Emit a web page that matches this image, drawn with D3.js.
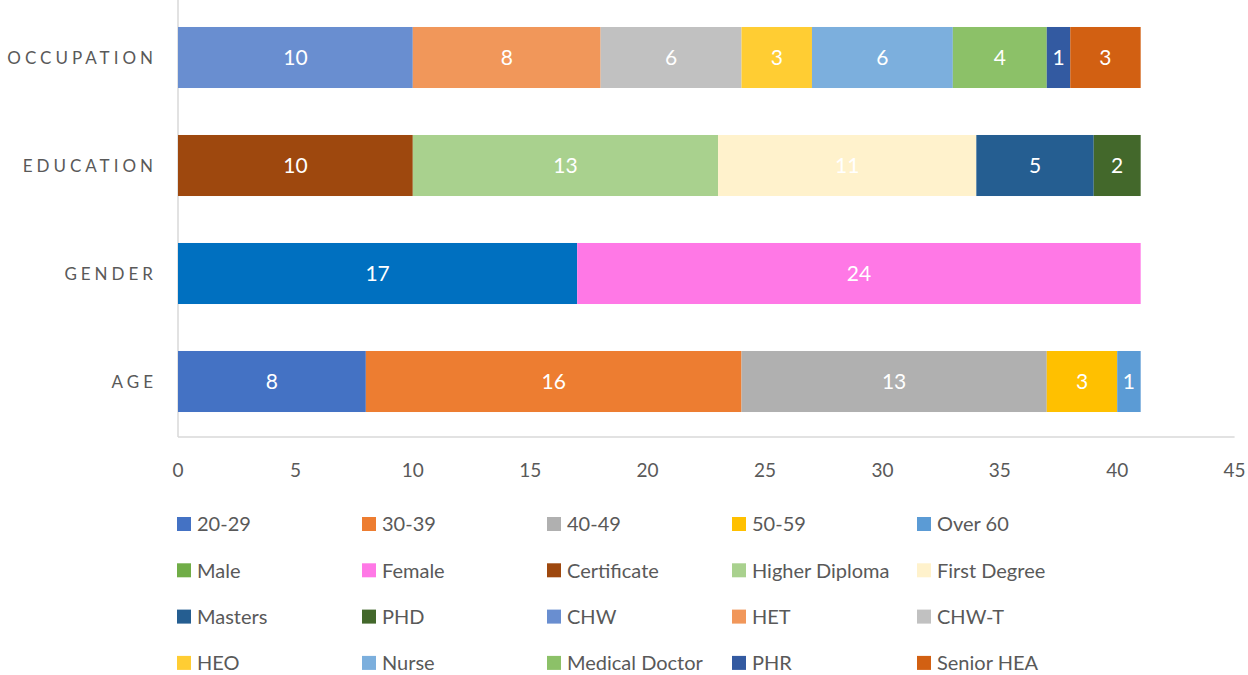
<!DOCTYPE html>
<html>
<head>
<meta charset="utf-8">
<script src="https://cdn.jsdelivr.net/npm/d3@7"></script>
<style>
  body { margin: 0; background: #fff; }
  svg { font-family: Lato, "Open Sans", sans-serif; }
</style>
</head>
<body>
<svg width="1248" height="675"></svg>
<script>
// categories top to bottom
const categories = ["OCCUPATION", "EDUCATION", "GENDER", "AGE"];

const ageLabels = ["20-29", "30-39", "40-49", "50-59", "Over 60"];
const ageValues = [8, 16, 13, 3, 1];
const ageColors = ["#4472C4", "#ED7D31", "#B0B0B0", "#FFC000", "#5B9BD5"];

const genderLabels = ["Male", "Female"];
const genderValues = [17, 24];
const genderColors = ["#0070C0", "#FF78E6"];
const genderLegendColors = ["#70AD47", "#FF78E6"]; // legend swatch for Male is green in the original

const eduLabels = ["Certificate", "Higher Diploma", "First Degree", "Masters", "PHD"];
const eduValues = [10, 13, 11, 5, 2];
const eduColors = ["#9E480E", "#A9D18E", "#FFF2CC", "#255E91", "#43682B"];

const occLabels = ["CHW", "HET", "CHW-T", "HEO", "Nurse", "Medical Doctor", "PHR", "Senior HEA"];
const occValues = [10, 8, 6, 3, 6, 4, 1, 3];
const occColors = ["#698ED0", "#F1975A", "#C1C1C1", "#FFCD33", "#7CAFDD", "#8CC168", "#335AA1", "#D26012"];

const xTicks = [0, 5, 10, 15, 20, 25, 30, 35, 40, 45];

function stack(cat, labels, values, colors) {
  let acc = 0;
  return labels.map((l, i) => {
    const s = { cat, label: l, value: values[i], x0: acc, x1: acc + values[i], color: colors[i] };
    acc += values[i];
    return s;
  });
}

const segments = [
  ...stack("AGE", ageLabels, ageValues, ageColors),
  ...stack("GENDER", genderLabels, genderValues, genderColors),
  ...stack("EDUCATION", eduLabels, eduValues, eduColors),
  ...stack("OCCUPATION", occLabels, occValues, occColors)
];

const legendItems = [
  ...ageLabels.map((l, i) => ({ label: l, color: ageColors[i] })),
  ...genderLabels.map((l, i) => ({ label: l, color: genderLegendColors[i] })),
  ...eduLabels.map((l, i) => ({ label: l, color: eduColors[i] })),
  ...occLabels.map((l, i) => ({ label: l, color: occColors[i] }))
];

const svg = d3.select("svg");

const x = d3.scaleLinear().domain([0, 45]).range([178, 1234.6]);
const y = d3.scaleBand().domain(categories).range([3.5, 435.5])
  .paddingInner(0.435).paddingOuter(0.2175);

// axis lines
svg.append("line")
  .attr("x1", x(0)).attr("x2", x(0)).attr("y1", 0).attr("y2", 437)
  .attr("stroke", "#D9D9D9").attr("stroke-width", 1.5);
svg.append("line")
  .attr("x1", x(0)).attr("x2", x(45)).attr("y1", 437).attr("y2", 437)
  .attr("stroke", "#D9D9D9").attr("stroke-width", 1.5);

// bars
svg.append("g").selectAll("rect")
  .data(segments)
  .join("rect")
  .attr("x", d => x(d.x0))
  .attr("y", d => y(d.cat))
  .attr("width", d => x(d.x1) - x(d.x0))
  .attr("height", y.bandwidth())
  .attr("fill", d => d.color);

// data labels
svg.append("g").selectAll("text")
  .data(segments)
  .join("text")
  .attr("x", d => (x(d.x0) + x(d.x1)) / 2)
  .attr("y", d => y(d.cat) + y.bandwidth() / 2)
  .attr("dy", "0.36em")
  .attr("text-anchor", "middle")
  .attr("fill", "#fff")
  .attr("font-size", 21)
  .text(d => d.value);

// category labels
svg.append("g").selectAll("text")
  .data(categories)
  .join("text")
  .attr("x", 157)
  .attr("y", d => y(d) + y.bandwidth() / 2)
  .attr("dy", "0.36em")
  .attr("text-anchor", "end")
  .attr("fill", "#595959")
  .attr("font-size", 17)
  .attr("letter-spacing", 4)
  .text(d => d);

// x tick labels
svg.append("g").selectAll("text")
  .data(xTicks)
  .join("text")
  .attr("x", d => x(d))
  .attr("y", 470)
  .attr("dy", "0.36em")
  .attr("text-anchor", "middle")
  .attr("fill", "#595959")
  .attr("font-size", 19)
  .text(d => d);

// legend
const legend = svg.append("g").selectAll("g")
  .data(legendItems)
  .join("g")
  .attr("transform", (d, i) => `translate(${177 + (i % 5) * 185},${524 + Math.floor(i / 5) * 46.3})`);

legend.append("rect")
  .attr("x", 0).attr("y", -7)
  .attr("width", 14).attr("height", 14)
  .attr("fill", d => d.color);

legend.append("text")
  .attr("x", 20)
  .attr("dy", "0.36em")
  .attr("fill", "#595959")
  .attr("font-size", 20)
  .text(d => d.label);
</script>
</body>
</html>
